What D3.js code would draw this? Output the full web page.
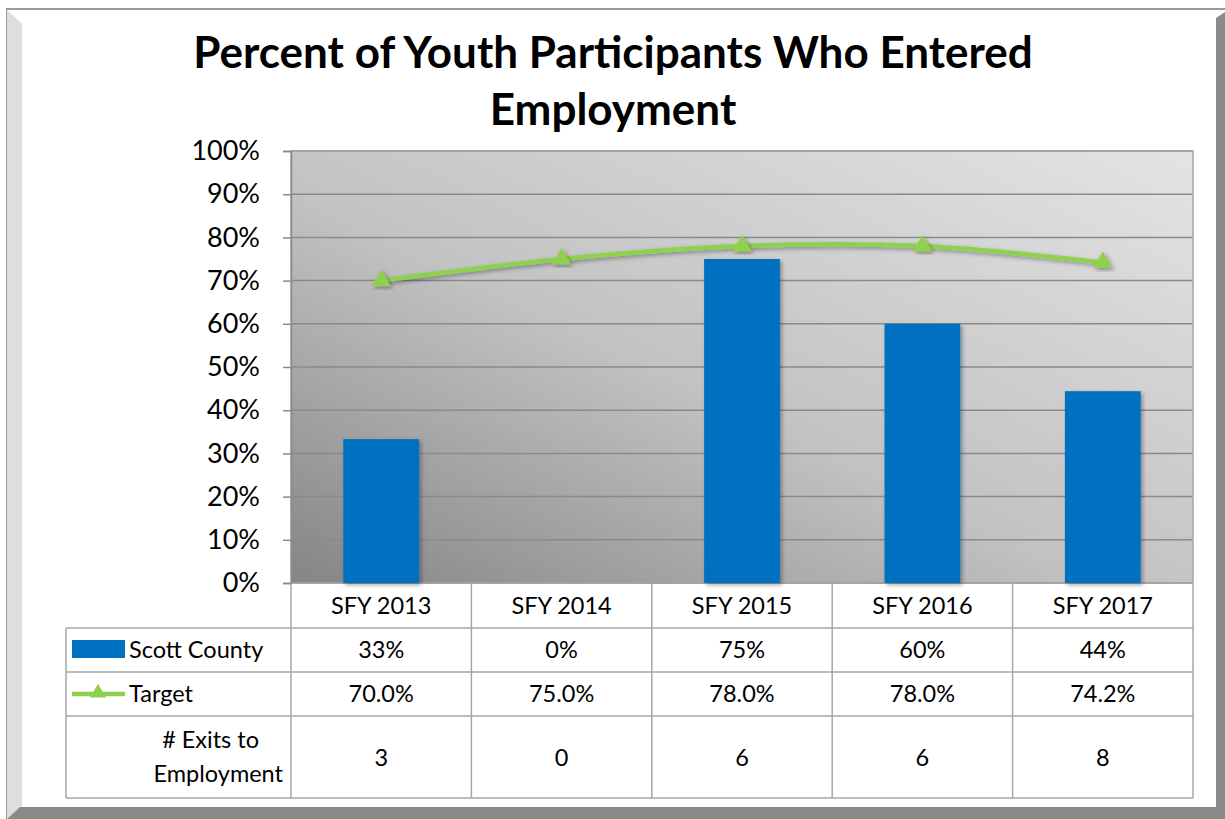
<!DOCTYPE html>
<html>
<head>
<meta charset="utf-8">
<script src="https://cdn.jsdelivr.net/npm/d3@7"></script>
<style>
  body { margin: 0; background: #ffffff; }
  svg { display: block; font-family: Lato, "Open Sans", sans-serif; }
</style>
</head>
<body>
<div id="chart"></div>
<script>
const years = ["SFY 2013", "SFY 2014", "SFY 2015", "SFY 2016", "SFY 2017"];
const scottCounty = [0.333, 0, 0.75, 0.60, 0.444];
const target = [0.70, 0.75, 0.78, 0.78, 0.742];
const exits = [3, 0, 6, 6, 8];
const yTicks = [0, 0.1, 0.2, 0.3, 0.4, 0.5, 0.6, 0.7, 0.8, 0.9, 1.0];

const width = 1225;
const height = 819;
const plot = { left: 291, right: 1193, top: 151, bottom: 583 };
const tableLeft = 66;
const rowLines = [583, 628, 672, 716, 798];
const fontSize = 23.5;

const svg = d3.select("#chart")
    .append("svg")
    .attr("width", width)
    .attr("height", height);

const defs = svg.append("defs");
const grad = defs.append("linearGradient")
    .attr("id", "plotBg")
    .attr("x1", 0).attr("y1", 1)
    .attr("x2", 1).attr("y2", 0);
grad.append("stop").attr("offset", "0%").attr("stop-color", "#858585");
grad.append("stop").attr("offset", "45%").attr("stop-color", "#c2c2c2");
grad.append("stop").attr("offset", "100%").attr("stop-color", "#e4e4e4");

const shadow = defs.append("filter").attr("id", "shadow")
    .attr("x", "-20%").attr("y", "-20%").attr("width", "140%").attr("height", "140%");
shadow.append("feDropShadow")
    .attr("dx", 2).attr("dy", 2).attr("stdDeviation", 2)
    .attr("flood-color", "#000").attr("flood-opacity", 0.35);

// frame
svg.append("rect").attr("x", 0).attr("y", 0).attr("width", width).attr("height", height).attr("fill", "#fff");
svg.append("line").attr("x1", 6).attr("x2", width).attr("y1", 9).attr("y2", 9)
    .attr("stroke", "#9a9a9a").attr("stroke-width", 2);
svg.append("polygon").attr("points", "7,10 22,24 22,806 7,819").attr("fill", "#dedede");
svg.append("line").attr("x1", 6.5).attr("x2", 6.5).attr("y1", 9).attr("y2", 819)
    .attr("stroke", "#9a9a9a").attr("stroke-width", 1);
svg.append("polygon").attr("points", "1216,18 1225,12 1225,819 1216,819").attr("fill", "#8a8a8a");
svg.append("polygon").attr("points", "7,819 20,807 1216,807 1225,819").attr("fill", "#8a8a8a");

// title
const title = svg.append("text")
    .attr("text-anchor", "middle")
    .attr("font-weight", "bold")
    .attr("font-size", 44)
    .attr("fill", "#000");
title.append("tspan").attr("x", 613).attr("y", 68).text("Percent of Youth Participants Who Entered");
title.append("tspan").attr("x", 613).attr("y", 125).text("Employment");

// scales
const x = d3.scaleBand()
    .domain(years)
    .range([plot.left, plot.right])
    .paddingInner(0)
    .paddingOuter(0);

const y = d3.scaleLinear()
    .domain([0, 1])
    .range([plot.bottom, plot.top]);

// plot background
svg.append("rect")
    .attr("x", plot.left).attr("y", plot.top)
    .attr("width", plot.right - plot.left).attr("height", plot.bottom - plot.top)
    .attr("fill", "url(#plotBg)");

// gridlines
svg.append("g")
    .selectAll("line")
    .data(yTicks)
    .enter()
    .append("line")
    .attr("x1", plot.left).attr("x2", plot.right)
    .attr("y1", d => y(d)).attr("y2", d => y(d))
    .attr("stroke", "#8a8a8a").attr("stroke-width", 1.5);

svg.append("rect")
    .attr("x", plot.left).attr("y", plot.top)
    .attr("width", plot.right - plot.left).attr("height", plot.bottom - plot.top)
    .attr("fill", "none").attr("stroke", "#a6a6a6").attr("stroke-width", 1.5);

// y axis
const yAxis = svg.append("g")
    .attr("transform", `translate(${plot.left},0)`)
    .call(d3.axisLeft(y).tickValues(yTicks).tickFormat(d3.format(".0%")).tickSize(8).tickPadding(23));
yAxis.select(".domain").attr("stroke", "#8a8a8a").attr("stroke-width", 1.5);
yAxis.selectAll(".tick line").attr("stroke", "#8a8a8a").attr("stroke-width", 1.5);
yAxis.selectAll("text")
    .attr("font-family", "Lato, 'Open Sans', sans-serif")
    .attr("font-size", 27).attr("fill", "#000");

// bars
const barWidth = x.bandwidth() * 0.42;
svg.append("g")
    .selectAll("rect")
    .data(scottCounty)
    .enter()
    .append("rect")
    .attr("x", (d, i) => x(years[i]) + (x.bandwidth() - barWidth) / 2)
    .attr("y", d => y(d))
    .attr("width", barWidth)
    .attr("height", d => y(0) - y(d))
    .attr("fill", "#0070c0")
    .attr("filter", "url(#shadow)");

// target line
const line = d3.line()
    .x((d, i) => x(years[i]) + x.bandwidth() / 2)
    .y(d => y(d))
    .curve(d3.curveCardinal);

svg.append("path")
    .datum(target)
    .attr("d", line)
    .attr("fill", "none")
    .attr("stroke", "#8fd14f")
    .attr("stroke-width", 4.5)
    .attr("filter", "url(#shadow)");

const tri = d3.symbol().type(d3.symbolTriangle).size(160);
svg.append("g")
    .selectAll("path")
    .data(target)
    .enter()
    .append("path")
    .attr("d", tri)
    .attr("transform", (d, i) => `translate(${x(years[i]) + x.bandwidth() / 2},${y(d)})`)
    .attr("fill", "#8fd14f")
    .attr("filter", "url(#shadow)");

// data table
const table = svg.append("g");
const gridColor = "#a6a6a6";

table.selectAll("line.h")
    .data(rowLines.slice(1))
    .enter()
    .append("line")
    .attr("x1", tableLeft).attr("x2", plot.right)
    .attr("y1", d => d).attr("y2", d => d)
    .attr("stroke", gridColor).attr("stroke-width", 1.5);

const colEdges = years.map(d => x(d)).concat([plot.right]);
table.selectAll("line.v")
    .data(colEdges)
    .enter()
    .append("line")
    .attr("x1", d => d).attr("x2", d => d)
    .attr("y1", rowLines[0]).attr("y2", rowLines[4])
    .attr("stroke", gridColor).attr("stroke-width", 1.5);

table.append("line")
    .attr("x1", tableLeft).attr("x2", tableLeft)
    .attr("y1", rowLines[1]).attr("y2", rowLines[4])
    .attr("stroke", gridColor).attr("stroke-width", 1.5);

const cx = d => x(d) + x.bandwidth() / 2;
const rowText = (values, fmt, ty) => {
    table.append("g")
        .selectAll("text")
        .data(values)
        .enter()
        .append("text")
        .attr("x", (d, i) => cx(years[i]))
        .attr("y", ty)
        .attr("text-anchor", "middle")
        .attr("font-size", fontSize)
        .attr("fill", "#000")
        .text(fmt);
};
rowText(years, d => d, 614);
rowText(scottCounty, d3.format(".0%"), 658);
rowText(target, d3.format(".1%"), 702);
rowText(exits, d => d, 766);

// legend keys
table.append("rect")
    .attr("x", 72).attr("y", 640).attr("width", 53).attr("height", 18)
    .attr("fill", "#0070c0");
table.append("text")
    .attr("x", 129).attr("y", 658)
    .attr("font-size", fontSize).attr("fill", "#000")
    .text("Scott County");

table.append("line")
    .attr("x1", 72).attr("x2", 125).attr("y1", 694).attr("y2", 694)
    .attr("stroke", "#8fd14f").attr("stroke-width", 4.5);
table.append("path")
    .attr("d", d3.symbol().type(d3.symbolTriangle).size(110))
    .attr("transform", "translate(98,693)")
    .attr("fill", "#8fd14f");
table.append("text")
    .attr("x", 129).attr("y", 702)
    .attr("font-size", fontSize).attr("fill", "#000")
    .text("Target");

const exitLabel = table.append("text")
    .attr("text-anchor", "end")
    .attr("font-size", fontSize).attr("fill", "#000");
exitLabel.append("tspan").attr("x", 259).attr("y", 748).text("# Exits to");
exitLabel.append("tspan").attr("x", 283).attr("y", 782).text("Employment");
</script>
</body>
</html>
